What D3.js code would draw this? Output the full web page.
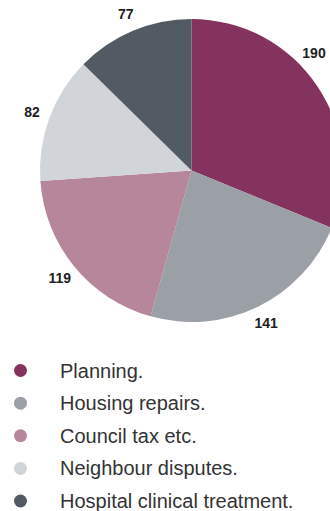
<!DOCTYPE html>
<html>
<head>
<meta charset="utf-8">
<script src="https://cdn.jsdelivr.net/npm/d3@7"></script>
<style>
  html, body { margin: 0; padding: 0; background: #ffffff; }
  svg { display: block; }
</style>
</head>
<body>
<div id="chart"></div>
<script>
// Complaint categories and their counts
const categories = ["Planning.", "Housing repairs.", "Council tax etc.", "Neighbour disputes.", "Hospital clinical treatment."];
const counts = [190, 141, 119, 82, 77];
const colors = ["#84325e", "#9b9fa6", "#b6879b", "#d1d4d8", "#525a63"];

const width = 330, height = 511;
const cx = 191.5, cy = 170.5, radius = 151.5, labelRadius = 170;

const svg = d3.select("#chart").append("svg")
  .attr("width", width)
  .attr("height", height);

const color = d3.scaleOrdinal().domain(categories).range(colors);

const pie = d3.pie().sort(null).value(d => d.value);
const data = categories.map((c, i) => ({ name: c, value: counts[i] }));
const arcs = pie(data);

const arc = d3.arc().innerRadius(0).outerRadius(radius);
const labelArc = d3.arc().innerRadius(labelRadius).outerRadius(labelRadius);

const g = svg.append("g").attr("transform", `translate(${cx},${cy})`);

g.selectAll("path.slice")
  .data(arcs)
  .join("path")
  .attr("class", "slice")
  .attr("d", arc)
  .attr("fill", d => color(d.data.name));

// Value labels sit on a ring outside the pie; a label that would run past
// the right edge slides along the ring until it fits.
const maxX = width - cx - 16;
function labelPos(d) {
  let [x, y] = labelArc.centroid(d);
  if (x > maxX) {
    x = maxX;
    y = -Math.sqrt(labelRadius * labelRadius - x * x);
  }
  return [x, y];
}

g.selectAll("text.value")
  .data(arcs)
  .join("text")
  .attr("class", "value")
  .attr("transform", d => `translate(${labelPos(d)})`)
  .attr("text-anchor", "middle")
  .attr("dy", "0.36em")
  .attr("font-family", "Liberation Sans, Arial, sans-serif")
  .attr("font-weight", "bold")
  .attr("font-size", 14)
  .attr("fill", "#1e1e1e")
  .text(d => d.data.value);

// Legend
const legendY = d3.scalePoint().domain(categories).range([370.5, 501]);

const legend = svg.append("g")
  .selectAll("g")
  .data(categories)
  .join("g")
  .attr("transform", d => `translate(0,${legendY(d)})`);

legend.append("circle")
  .attr("cx", 20.5)
  .attr("cy", 0)
  .attr("r", 6.5)
  .attr("fill", d => color(d));

legend.append("text")
  .attr("x", 60)
  .attr("y", 0)
  .attr("dy", "0.35em")
  .attr("font-family", "Liberation Sans, Arial, sans-serif")
  .attr("font-size", 20)
  .attr("fill", "#333333")
  .text(d => d);
</script>
</body>
</html>
